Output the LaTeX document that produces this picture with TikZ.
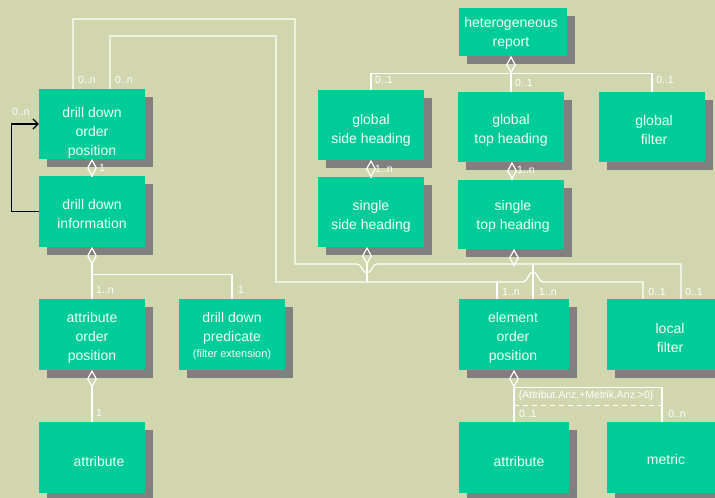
\documentclass[tikz,border=0pt]{standalone}
\usepackage{fontspec}
\setmainfont{Liberation Sans}
\usetikzlibrary{shapes.geometric,shadows,arrows.meta}
\definecolor{bgcol}{RGB}{209,214,174}
\definecolor{boxgreen}{RGB}{0,204,153}
\definecolor{boxshade}{RGB}{128,128,128}
\definecolor{boxtext}{RGB}{240,255,245}
\newcommand{\cardScale}[0]{1pt}

\begin{document}
\begin{tikzpicture}[x=\cardScale, y=-\cardScale]
  \tikzset{box/.style={fill=boxgreen, inner sep=0, minimum width=106pt, minimum height=70pt,
      drop shadow={shadow xshift=8pt, shadow yshift=-8pt, fill=boxshade, opacity=1}},
    txt/.style={text=boxtext, align=center, font=\fontsize{14}{19}\selectfont},
    mult/.style={text=white, inner sep=0, font=\fontsize{10.5}{12}\selectfont},
    agg/.style={diamond, draw=white, line width=1.2pt, inner sep=0, minimum width=9pt,
      minimum height=16pt, anchor=north},
    cline/.style={draw=white, line width=1.2pt},
    backloop/.style={draw=black, line width=1.2pt, -{Straight Barb[length=5pt,width=10pt]}}}
  \fill[bgcol] (0,0) rectangle (715,498);
  \useasboundingbox (0,0) rectangle (715,498);
  \coordinate (loopA) at (295,19);
  \coordinate (loopB) at (276,36);
  \coordinate (busA) at (0,264);
  \coordinate (busB) at (0,282);

  \node[box] (ddop) at (92,124) {};
  \node[box, minimum height=71pt] (ddi) at (92,211.5) {};
  \node[box, minimum height=71pt] (aop) at (92,334.5) {};
  \node[box, minimum height=71pt] (ddp) at (232,334.5) {};
  \node[box, minimum height=71pt] (attrL) at (92,457.5) {};
  \node[box, minimum width=108pt, minimum height=48pt] (hr) at (513,32) {};
  \node[box] (gsh) at (371,125) {};
  \node[box] (gth) at (511,127) {};
  \node[box] (gf) at (652,127) {};
  \node[box] (ssh) at (371,212) {};
  \node[box, minimum height=69pt] (sth) at (511,214.5) {};
  \node[box, minimum width=110pt, minimum height=71pt] (eop) at (514,334.5) {};
  \node[box, minimum width=110pt, minimum height=71pt] (lf) at (662,334.5) {};
  \node[box, minimum width=110pt, minimum height=71pt] (attrR) at (514,457.5) {};
  \node[box, minimum width=110pt, minimum height=71pt] (metric) at (662,457.5) {};

  \node[txt] (ddop-t) at (92,133) {drill down\\order\\position};
  \node[txt] (ddi-t) at (92,214) {drill down\\information};
  \node[txt] (aop-t) at (92,338) {attribute\\order\\position};
  \node[txt] (ddp-t) at (232,336) {drill down\\predicate\\[-3pt]{\fontsize{11}{12}\selectfont(filter extension)}};
  \node[txt] (attrL-t) at (99,461) {attribute};
  \node[txt] (hr-t) at (511,33.5) {heterogeneous\\report};
  \node[txt] (gsh-t) at (371,130) {global\\side heading};
  \node[txt] (gth-t) at (511,130) {global\\top heading};
  \node[txt] (gf-t) at (654,130) {global\\filter};
  \node[txt] (ssh-t) at (371,216.5) {single\\side heading};
  \node[txt] (sth-t) at (513,216) {single\\top heading};
  \node[txt] (eop-t) at (513,338) {element\\order\\position};
  \node[txt] (lf-t) at (670,338) {local\\filter};
  \node[txt] (attrR-t) at (519,461) {attribute};
  \node[txt] (metric-t) at (666,459) {metric};

  \node[agg] (d1) at (ddop.south) {};
  \node[agg] (d2) at (ddi.south) {};
  \node[agg] (d3) at (aop.south) {};
  \node[agg] (d4) at ([xshift=-2pt]hr.south) {};
  \node[agg] (d5) at (gsh.south) {};
  \node[agg] (d6) at ([xshift=1pt]gth.south) {};
  \node[agg] (d7) at ([xshift=-4pt]ssh.south) {};
  \node[agg] (d8) at ([xshift=3pt]sth.south) {};
  \node[agg] (d9) at (eop.south) {};

  % report parts
  \draw[cline] (gsh.north) |- (d4.south) -| (gf.north);
  \draw[cline] (d4.south) -- (gth.north);
  \draw[cline] (d5.south) -- (ssh.north);
  \draw[cline] (d6.south) -- (d6.south |- sth.north);

  % drill down side
  \draw[cline] (d1.south) -- (ddi.north);
  \draw[backloop] (ddi.west) -- ++(-27,0) |- (ddop.west);
  \draw[cline] (d2.south) -- (aop.north);
  \draw[cline] (d2.south) -- ++(0,10) -| (ddp.north);
  \draw[cline] (d3.south) -- (d3.south |- attrL.north);

  % the two long buses with their hops
  \draw[cline] ([xshift=-19pt]ddop.north) |- (loopA) |- (357,264)
    .. controls (362,264) and (362,273) .. (367,273)
    .. controls (372,273) and (372,264) .. (377,264) -| ([xshift=19pt]lf.north);
  \draw[cline] (d8.south) -- (d8.south |- busA);
  \draw[cline] ([xshift=19pt]eop.north) -- ([xshift=19pt]eop.north |- busA);
  \draw[cline] ([xshift=18pt]ddop.north) |- (loopB) |- (523,282)
    .. controls (528,282) and (528,272) .. (533,272)
    .. controls (538,272) and (538,282) .. (543,282) -| ([xshift=-19pt]lf.north);
  \draw[cline] (d7.south) -- (d7.south |- busB);
  \draw[cline] ([xshift=-17pt]eop.north) -- ([xshift=-17pt]eop.north |- busB);

  % element order position
  \draw[cline] (d9.south) -- (attrR.north);
  \draw[cline] (d9.south) -| (metric.north);
  \draw[cline, dash pattern=on 5pt off 4pt] ([yshift=-18pt]d9.south) -- ([yshift=-18pt]d9.south -| metric.north);
  \node[mult] (cons) at (586,396) {\{Attribut.Anz.+Metrik.Anz.>0\}};

  \node[mult] (m1) at (87,80) {0..n};
  \node[mult] (m2) at (124,80) {0..n};
  \node[mult] (m3) at (21,112) {0..n};
  \node[mult] (m4) at (102,168) {1};
  \node[mult] (m5) at (105,290) {1..n};
  \node[mult] (m6) at (241,290) {1};
  \node[mult] (m7) at (99,413) {1};
  \node[mult] (m8) at (384,80) {0..1};
  \node[mult] (m9) at (524,83) {0..1};
  \node[mult] (m10) at (665,80) {0..1};
  \node[mult] (m11) at (384,169) {1..n};
  \node[mult] (m12) at (526,170) {1..n};
  \node[mult] (m13) at (511,292) {1..n};
  \node[mult] (m14) at (548,292) {1..n};
  \node[mult] (m15) at (657,292) {0..1};
  \node[mult] (m16) at (694,292) {0..1};
  \node[mult] (m17) at (528,414) {0..1};
  \node[mult] (m18) at (677,414) {0..n};
\end{tikzpicture}
\end{document}
